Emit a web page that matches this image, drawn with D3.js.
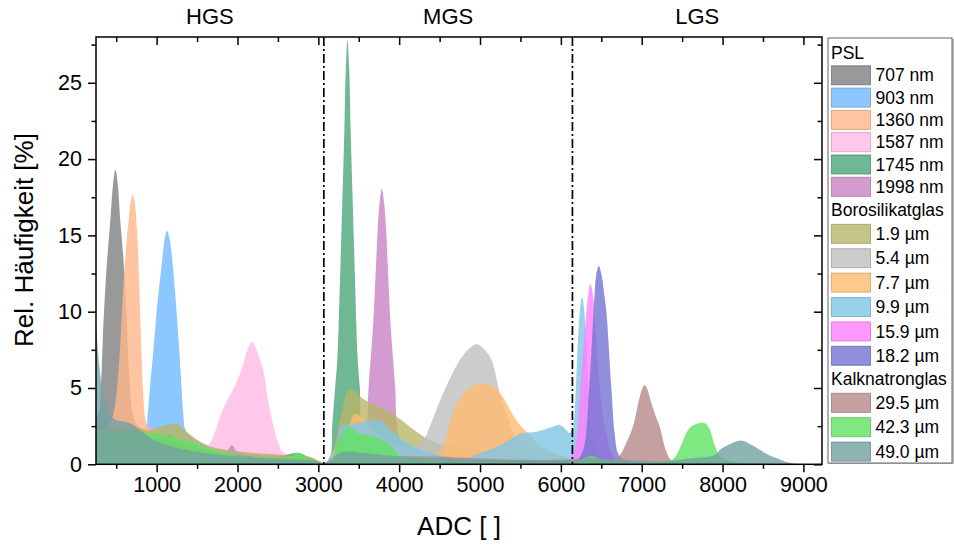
<!DOCTYPE html>
<html>
<head>
<meta charset="utf-8">
<script src="https://cdn.jsdelivr.net/npm/d3@7"></script>
<style>
  body { margin: 0; background: #fff; }
  text { font-family: "Liberation Sans", Arial, sans-serif; fill: #000; }
</style>
</head>
<body>
<div id="container"></div>
<script>
// ADC / Rel. Häufigkeit pairs
var psl707 = [[250,3],[290,3.5],[315,5.5],[340,9],[380,12.8],[430,16.2],[460,18.3],[490,19.3],[520,18.3],[550,16],[590,13.4],[625,10],[660,6],[700,3.5],[760,2.6],[1000,1.9],[1300,1.5],[1600,1.1],[2000,0.8],[2500,0.6],[2900,0.4],[3070,0.05],[3300,0.1],[9230,0]];
var psl903 = [[250,1.5],[500,2],[700,2.2],[860,2.4],[890,3.3],[917,5],[960,7.5],[1000,10],[1035,11.8],[1069,13.4],[1100,14.8],[1130,15.3],[1160,14.8],[1193,13.4],[1220,11.8],[1247,10],[1280,7.5],[1309,5],[1330,3.3],[1360,2.2],[1450,1.7],[1700,1.1],[2000,0.8],[2500,0.6],[2900,0.4],[3070,0.05],[3300,0.1],[9230,0]];
var psl1360 = [[250,1.5],[400,2.5],[460,3.2],[500,4.5],[540,7],[570,10],[610,13.4],[650,15.8],[680,17.2],[705,17.65],[730,17.1],[755,15.5],[775,13.4],[795,10],[815,7],[835,4.5],[860,3],[900,2.5],[1200,1.8],[1600,1.1],[2000,0.8],[2500,0.6],[2900,0.4],[3070,0.05],[3300,0.1],[9230,0]];
var psl1587 = [[250,1],[800,1.2],[1200,1.0],[1550,0.9],[1660,1.4],[1816,3.56],[1944,4.9],[2051,6.2],[2130,7.6],[2175,8.03],[2220,7.7],[2270,7.0],[2318,6.2],[2401,3.56],[2504,1.4],[2560,0.8],[2800,0.5],[3070,0.05],[3300,0.1],[9230,0]];
var psl1745 = [[250,2.6],[500,2.2],[800,2.3],[1000,1.5],[1150,2.0],[1300,1.3],[1600,1.0],[2000,0.7],[2500,0.5],[2750,0.75],[2900,0.4],[3070,0.05],[3150,0.6],[3171,2.5],[3208,5],[3236,7],[3268,12.1],[3297,17.3],[3321,21.7],[3341,26],[3361,27.8],[3381,26],[3401,21.7],[3425,17.3],[3454,12.1],[3486,7],[3514,5],[3551,2.5],[3700,1.8],[4000,1.0],[4500,0.5],[5000,0.3],[6000,0.1],[9230,0]];
var psl1998 = [[250,1],[1000,0.9],[1500,0.8],[1850,0.8],[1930,1.25],[2000,0.8],[2500,0.5],[3070,0.05],[3300,0.5],[3526,1.2],[3596,2.5],[3621,5],[3676,9],[3711,12.8],[3736,15.6],[3761,17.3],[3786,18.04],[3811,17.3],[3836,15.6],[3861,12.8],[3896,9],[3951,5],[3976,2.5],[4046,1.2],[4300,0.7],[4600,0.5],[5000,0.3],[6000,0.1],[9230,0]];
var bs19 = [[250,2.4],[400,2.3],[600,2.3],[750,2.4],[900,2.2],[1000,2.4],[1150,2.6],[1250,2.65],[1400,2.0],[1600,1.3],[1800,1.0],[2000,0.85],[2300,0.7],[2600,0.6],[2900,0.5],[3070,0.1],[3150,0.4],[3280,3.2],[3390,4.95],[3550,4.3],[3700,3.9],[3843,3.56],[4000,3.0],[4214,2.14],[4416,1.48],[4664,1.15],[5000,0.9],[5500,0.5],[6000,0.3],[6500,0.15],[7000,0.05],[9230,0]];
var bs54 = [[250,2],[1000,1.8],[1300,1.5],[2000,0.6],[3070,0.05],[3200,1.0],[3400,1.5],[3700,1.3],[4000,1.0],[4200,1.2],[4300,1.6],[4380,2.5],[4544,4.65],[4750,6.83],[4870,7.6],[4956,7.88],[5040,7.6],[5142,6.83],[5245,4.65],[5350,3],[5450,1.6],[5600,1.0],[6000,0.5],[6200,0.3],[7000,0.05],[9230,0]];
var bs77 = [[250,2],[1000,1.7],[1300,1.4],[2000,0.5],[3070,0.05],[3300,1],[3450,3.3],[3600,2.8],[3700,2.2],[3900,1.5],[4200,0.8],[4400,0.6],[4500,0.8],[4585,1.8],[4650,3.2],[4750,4.3],[4900,5.1],[5071,5.3],[5200,4.9],[5285,4.4],[5390,3.4],[5490,2.6],[5620,1.9],[5750,1.2],[5900,0.8],[6100,0.4],[6200,0.2],[9230,0]];
var bs99 = [[250,2],[1000,1.8],[1300,1.4],[2000,0.5],[3070,0.05],[3200,0.5],[3280,2.5],[3400,2.6],[3740,2.9],[3900,2.2],[4100,1.4],[4300,0.9],[4600,0.5],[4833,0.4],[4997,0.74],[5162,1.05],[5327,1.48],[5492,2.0],[5698,2.14],[5904,2.46],[5986,2.58],[6068,2.25],[6110,2.05],[6151,2.5],[6184,5],[6215,8.5],[6240,10.3],[6263,10.94],[6285,10.3],[6310,8.5],[6340,5],[6380,2],[6450,0.8],[6600,0.3],[7000,0.1],[9230,0]];
var bs159 = [[250,1.5],[1000,1.2],[2000,0.6],[3070,0.05],[4500,0.2],[6000,0.2],[6100,0.3],[6170,1],[6240,5],[6300,9],[6340,11.2],[6366,11.8],[6395,11.2],[6430,9],[6480,5],[6560,2],[6650,0.5],[6800,0.2],[9230,0]];
var bs182 = [[250,1.5],[1000,1.2],[2000,0.6],[3070,0.05],[4800,0.2],[6000,0.25],[6200,0.3],[6280,1],[6350,5],[6405,10],[6440,12.5],[6469,13],[6500,12.5],[6535,11.2],[6563,10],[6625,5],[6666,2],[6720,0.6],[6850,0.2],[9230,0]];
var kn295 = [[250,2],[1000,1.7],[1300,1.4],[2000,0.5],[3070,0.05],[3400,0.8],[3800,0.6],[4500,0.5],[5500,0.3],[6500,0.3],[6650,0.3],[6730,0.6],[6800,1.3],[6893,2.5],[6970,4.3],[7010,5.0],[7037,5.2],[7070,4.9],[7110,4.2],[7170,3.2],[7222,2.5],[7300,0.9],[7360,0.3],[7500,0.15],[9230,0]];
var kn423 = [[250,2.2],[1000,2.0],[1200,1.8],[2000,0.6],[2650,0.5],[2743,0.76],[2850,0.45],[3070,0.05],[3150,0.2],[3250,1.5],[3380,2.45],[3500,2.0],[3700,1.8],[3900,1.2],[4000,0.6],[4300,0.4],[5000,0.2],[6200,0.2],[6379,0.56],[6550,0.2],[7300,0.2],[7400,0.4],[7500,1.4],[7580,2.3],[7680,2.65],[7780,2.7],[7840,2.3],[7900,1.3],[7960,0.6],[8050,0.3],[8200,0.1],[9230,0]];
var kn490 = [[250,9.3],[290,6.5],[340,4.5],[400,3.4],[500,2.9],[600,2.8],[700,2.6],[800,2.2],[1000,1.5],[1500,0.8],[2000,0.5],[3000,0.2],[3070,0.05],[3300,0.8],[3600,0.7],[4000,0.5],[5000,0.3],[6000,0.3],[6400,0.4],[6800,0.3],[7300,0.2],[7600,0.4],[7900,0.6],[7980,1.0],[8100,1.35],[8245,1.55],[8350,1.3],[8460,0.95],[8560,0.65],[8670,0.4],[8830,0.1],[9000,0.02],[9230,0.02]];

var groups = ["PSL", "Borosilikatglas", "Kalknatronglas"];
var labels = [["707 nm","903 nm","1360 nm","1587 nm","1745 nm","1998 nm"],
              ["1.9 µm","5.4 µm","7.7 µm","9.9 µm","15.9 µm","18.2 µm"],
              ["29.5 µm","42.3 µm","49.0 µm"]];
var seriesData = [[psl707, psl903, psl1360, psl1587, psl1745, psl1998],
                  [bs19, bs54, bs77, bs99, bs159, bs182],
                  [kn295, kn423, kn490]];
// colours as they look on white (fill is 80 % opaque)
var swatchColors = [["#999999","#8cc8ff","#ffc4a0","#ffc8ea","#70b894","#d49bd0"],
                    ["#c6c486","#cccccc","#ffc88c","#99d1ea","#ff99ff","#8f8fdb"],
                    ["#c4a0a0","#80e880","#8fb4b4"]];

var regions = ["HGS", "MGS", "LGS"];
var regionBounds = [250, 3068, 6143, 9230];
var xTicks = [1000, 2000, 3000, 4000, 5000, 6000, 7000, 8000, 9000];
var yTicks = [0, 5, 10, 15, 20, 25];

var alpha = 0.8;
function baseColor(hex)
{
    var c = d3.rgb(hex);
    var f = function (v) { return Math.max(0, Math.round((v - 255 * (1 - alpha)) / alpha)); };
    return d3.rgb(f(c.r), f(c.g), f(c.b)).formatHex();
}

var W = 954, H = 547;
var margin = { top: 37, left: 96, right: 822, bottom: 464.3 };

var svg = d3.select("#container").append("svg")
    .attr("width", W)
    .attr("height", H);

var x = d3.scaleLinear().domain([250, 9230]).range([margin.left, margin.right]);
var y = d3.scaleLinear().domain([0, 28]).range([margin.bottom, margin.top]);

// areas, drawn in legend order
var area = d3.area()
    .curve(d3.curveCatmullRom.alpha(0.5))
    .x(function (d) { return x(d[0]); })
    .y0(y(0))
    .y1(function (d) { return y(d[1]); });

var plot = svg.append("g");
plot.append("clipPath").attr("id", "clip")
    .append("rect")
    .attr("x", margin.left).attr("y", margin.top)
    .attr("width", margin.right - margin.left).attr("height", margin.bottom - margin.top);

for (var g = 0; g < seriesData.length; g++)
{
    for (var i = 0; i < seriesData[g].length; i++)
    {
        plot.append("path")
            .datum(seriesData[g][i])
            .attr("clip-path", "url(#clip)")
            .attr("fill", baseColor(swatchColors[g][i]))
            .attr("fill-opacity", alpha)
            .attr("stroke", "none")
            .attr("d", area);
    }
}

// region separators
svg.selectAll(".sep")
    .data(regionBounds.slice(1, 3))
    .enter().append("line")
    .attr("x1", function (d) { return x(d); })
    .attr("x2", function (d) { return x(d); })
    .attr("y1", margin.top)
    .attr("y2", margin.bottom)
    .attr("stroke", "#000")
    .attr("stroke-width", 1.7)
    .attr("stroke-dasharray", "9,3,2,3");

svg.selectAll(".region")
    .data(regions)
    .enter().append("text")
    .attr("x", function (d, i) { return x((regionBounds[i] + regionBounds[i + 1]) / 2); })
    .attr("y", 24)
    .attr("text-anchor", "middle")
    .style("font-size", "22px")
    .text(function (d) { return d; });

// axes
var xMinor = d3.range(500, 9230, 500).filter(function (v) { return v % 1000 !== 0; });
var yMinor = d3.range(2.5, 28, 5);

function styleAxis(sel)
{
    sel.select(".domain").remove();
    sel.selectAll("line").attr("stroke", "#000").attr("stroke-width", 1.5);
    sel.selectAll("text").style("font-size", "21.5px").attr("fill", "#000");
}

svg.append("g")
    .attr("transform", "translate(0," + margin.bottom + ")")
    .call(d3.axisBottom(x).tickValues(xTicks).tickFormat(d3.format("d")).tickSize(8).tickPadding(4.5))
    .call(styleAxis);
svg.append("g")
    .attr("transform", "translate(0," + margin.bottom + ")")
    .call(d3.axisBottom(x).tickValues(xMinor).tickFormat("").tickSize(4.5))
    .call(styleAxis);
svg.append("g")
    .attr("transform", "translate(" + margin.left + ",0)")
    .call(d3.axisLeft(y).tickValues(yTicks).tickSize(8).tickPadding(6))
    .call(styleAxis);
svg.append("g")
    .attr("transform", "translate(" + margin.left + ",0)")
    .call(d3.axisLeft(y).tickValues(yMinor).tickFormat("").tickSize(4.5))
    .call(styleAxis);

// mirrored ticks, pointing into the plot
svg.append("g")
    .attr("transform", "translate(0," + margin.top + ")")
    .call(d3.axisTop(x).tickValues(xTicks).tickFormat("").tickSize(-8))
    .call(styleAxis);
svg.append("g")
    .attr("transform", "translate(0," + margin.top + ")")
    .call(d3.axisTop(x).tickValues(xMinor).tickFormat("").tickSize(-5))
    .call(styleAxis);
svg.append("g")
    .attr("transform", "translate(" + margin.right + ",0)")
    .call(d3.axisRight(y).tickValues(yTicks).tickFormat("").tickSize(-8))
    .call(styleAxis);
svg.append("g")
    .attr("transform", "translate(" + margin.right + ",0)")
    .call(d3.axisRight(y).tickValues(yMinor).tickFormat("").tickSize(-4.5))
    .call(styleAxis);

svg.append("rect")
    .attr("x", margin.left).attr("y", margin.top)
    .attr("width", margin.right - margin.left)
    .attr("height", margin.bottom - margin.top)
    .attr("fill", "none")
    .attr("stroke", "#000")
    .attr("stroke-width", 1.5);

svg.append("text")
    .attr("x", (margin.left + margin.right) / 2)
    .attr("y", 535)
    .attr("text-anchor", "middle")
    .style("font-size", "26px")
    .text("ADC [ ]");

svg.append("text")
    .attr("transform", "translate(32.5,240) rotate(-90)")
    .attr("text-anchor", "middle")
    .style("font-size", "26px")
    .text("Rel. Häufigkeit [%]");

// legend
var legend = svg.append("g");
legend.append("rect")
    .attr("x", 829).attr("y", 39).attr("width", 126).attr("height", 425)
    .attr("fill", "#bbb");
legend.append("rect")
    .attr("x", 828).attr("y", 38).attr("width", 124).attr("height", 425)
    .attr("fill", "#fff")
    .attr("stroke", "#666")
    .attr("stroke-width", 1);

var rowY = 53;
for (var g = 0; g < groups.length; g++)
{
    if (g > 0) rowY += 22.6;
    legend.append("text")
        .attr("x", 831).attr("y", rowY).attr("dy", "0.35em")
        .style("font-size", "17.5px")
        .text(groups[g]);
    for (var i = 0; i < labels[g].length; i++)
    {
        rowY += labels[g][i].indexOf("µ") >= 0 ? 24.4 : 22.3;
        legend.append("rect")
            .attr("x", 831.5).attr("y", rowY - 9.5)
            .attr("width", 39).attr("height", 19)
            .attr("fill", swatchColors[g][i])
            .attr("stroke", d3.color(baseColor(swatchColors[g][i])).darker(0.6))
            .attr("stroke-opacity", 0.7)
            .attr("stroke-width", 1);
        legend.append("text")
            .attr("x", 875.5).attr("y", rowY).attr("dy", "0.35em")
            .style("font-size", "17.5px")
            .text(labels[g][i]);
    }
}
</script>
</body>
</html>
